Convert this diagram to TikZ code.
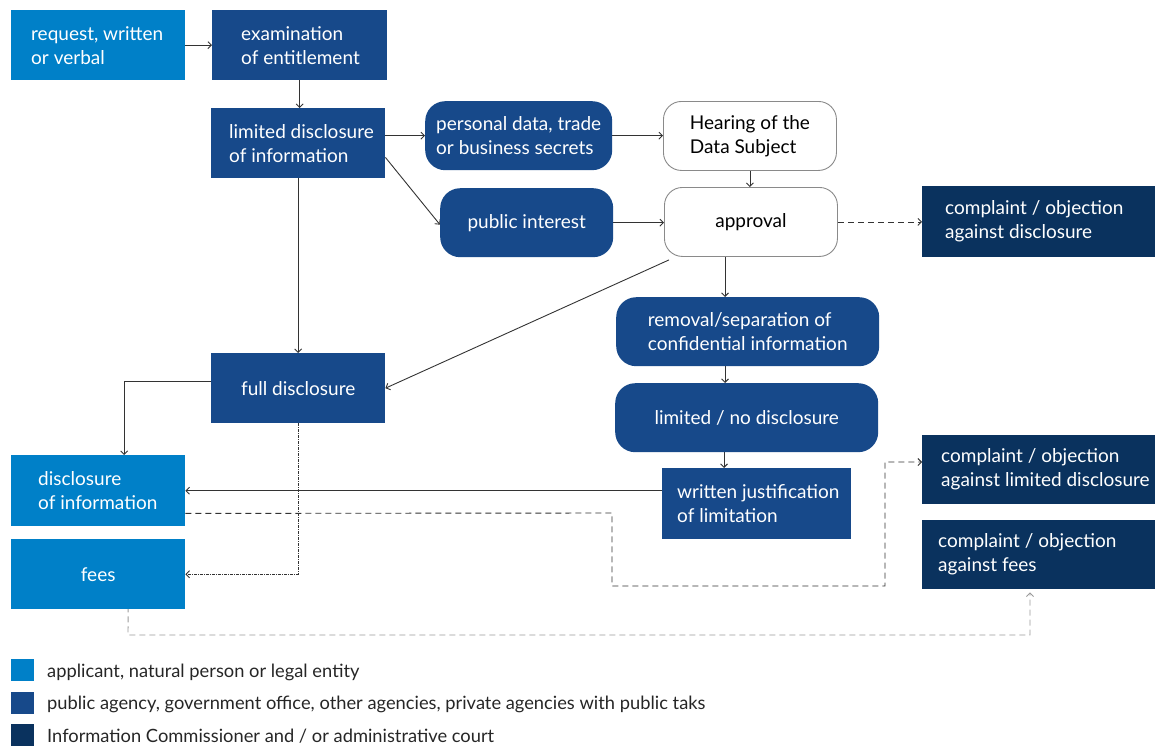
\documentclass[tikz,border=0pt]{standalone}
\usepackage{fontspec}
\setmainfont{Lato}
\usetikzlibrary{arrows.meta,backgrounds,calc}
\definecolor{cLight}{HTML}{0080C8}
\definecolor{cMid}{HTML}{17498A}
\definecolor{cDark}{HTML}{0A325E}
\definecolor{cLine}{HTML}{333333}
\definecolor{cGrayLine}{HTML}{9A9A9A}
\definecolor{cBorder}{HTML}{8A8A8A}
\begin{document}
\begin{tikzpicture}[x=1pt,y=-1pt,
  box/.style={rectangle, anchor=north west, inner sep=0pt, text=white, align=center,
    font=\fontsize{19}{24}\selectfont},
  sqbox/.style={box},
  rbox/.style={box, rounded corners=20pt},
  wbox/.style={box, rounded corners=18pt, fill=white, draw=cBorder, line width=0.9pt, text=black},
  txt/.style={anchor=west, inner sep=0pt, text=white, align=left, font=\fontsize{19}{24}\selectfont},
  legtxt/.style={anchor=west, inner sep=0pt, text=black!85, font=\fontsize{18.3}{20}\selectfont},
  conn/.style={draw=cLine, line width=0.9pt, -{Straight Barb[length=3.5pt,width=7pt]}},
  dconn/.style={conn, dash pattern=on 6pt off 4pt},
  ddconn/.style={conn, dash pattern=on 3pt off 1pt on 1pt off 1pt},
  gconn/.style={conn, draw=cGrayLine, dash pattern=on 6pt off 4pt},
]
\useasboundingbox (0,0) rectangle (1155,747);

% boxes
\node[sqbox, fill=cLight, minimum width=174pt, minimum height=70pt] (req) at (11,10) {};
\node[txt] (reqt) at ($(req.west)+(20,0)$) {request, written\\or verbal};
\node[sqbox, fill=cMid, minimum width=175pt, minimum height=70pt] (exam) at (212,10) {};
\node[txt] (examt) at ($(exam.west)+(29,0)$) {examination\\of entitlement};
\node[sqbox, fill=cMid, minimum width=174pt, minimum height=70pt] (lim) at (211,108) {};
\node[txt] (limt) at ($(lim.west)+(18,0)$) {limited disclosure\\of information};
\node[rbox, fill=cMid, minimum width=187pt, minimum height=69pt, align=left] (pers) at (425,101) {personal data, trade\\or business secrets};
\node[wbox, minimum width=173pt, minimum height=69pt, align=left] (hear) at (663,101) {Hearing of the\\Data Subject};
\node[rbox, fill=cMid, minimum width=173pt, minimum height=69pt] (pub) at (440,188) {public interest};
\node[wbox, minimum width=173pt, minimum height=69pt] (appr) at (664,187) {approval};
\node[sqbox, fill=cDark, minimum width=233pt, minimum height=71pt] (cd) at (922,186) {};
\node[txt] (cdt) at ($(cd.west)+(23,0)$) {complaint / objection\\against disclosure};
\node[rbox, fill=cMid, minimum width=263pt, minimum height=69pt, align=left] (rem) at (616,297) {removal/separation of\\confidential information};
\node[rbox, fill=cMid, minimum width=263pt, minimum height=69pt] (lnd) at (615,383) {limited / no disclosure};
\node[sqbox, fill=cMid, minimum width=189pt, minimum height=71pt] (writ) at (662,468) {};
\node[txt] (writt) at ($(writ.west)+(15,0)$) {written justification\\of limitation};
\node[sqbox, fill=cMid, minimum width=174pt, minimum height=70pt] (full) at (211,353) {full disclosure};
\node[sqbox, fill=cLight, minimum width=174pt, minimum height=71pt] (disc) at (11,455) {};
\node[txt] (disct) at ($(disc.west)+(27,0)$) {disclosure\\of information};
\node[sqbox, fill=cLight, minimum width=174pt, minimum height=70pt] (fees) at (11,539) {fees};
\node[sqbox, fill=cDark, minimum width=233pt, minimum height=69pt] (cl) at (922,435) {};
\node[txt] (clt) at ($(cl.west)+(19,0)$) {complaint / objection\\against limited disclosure};
\node[sqbox, fill=cDark, minimum width=233pt, minimum height=69pt] (cf) at (922,520) {};
\node[txt] (cft) at ($(cf.west)+(16,0)$) {complaint / objection\\against fees};

% legend
\node[sqbox, fill=cLight, minimum width=23pt, minimum height=22pt] (lg1) at (11,659) {};
\node[sqbox, fill=cMid, minimum width=23pt, minimum height=22pt] (lg2) at (11,692) {};
\node[sqbox, fill=cDark, minimum width=23pt, minimum height=22pt] (lg3) at (11,724) {};
\node[legtxt] (lt1) at (47,672) {applicant, natural person or legal entity};
\node[legtxt] (lt2) at (47,704) {public agency, government office, other agencies, private agencies with public taks};
\node[legtxt] (lt3) at (47,736) {Information Commissioner and / or administrative court};

% connector helper coordinates
\coordinate (d1) at (612,513);
\coordinate (d2) at (612,586);
\coordinate (d3) at (885,586);
\coordinate (d4) at (885,462);
\coordinate (g1) at (128,635);
\coordinate (g2) at (1030,635);

\begin{scope}[on background layer]
\draw[conn] (req.east) -- (req.east -| exam.west);
\draw[conn] (exam.south) -- (exam.south |- lim.north);
\draw[conn] (lim.east |- pers.west) -- (pers.west);
\draw[conn] ([yshift=21pt]lim.south east) -- ([yshift=-2pt]pub.west);
\draw[conn] (pers.east) -- (pers.east -| hear.west);
\draw[conn] (hear.south) -- (hear.south |- appr.north);
\draw[conn] (pub.east) -- (pub.east -| appr.west);
\draw[dconn] (appr.east) -- (appr.east -| cd.west);
\draw[conn] ([xshift=61pt]appr.south west) -- ([xshift=61pt]appr.south west |- rem.north);
\draw[conn] ([xshift=5pt,yshift=-3pt]appr.south west) -- (full.east);
\draw[conn] (lim.south) -- (lim.south |- full.north);
\draw[conn] ([xshift=109pt]rem.south west) -- ([xshift=109pt]rem.south west |- lnd.north);
\draw[conn] ([xshift=109pt]lnd.south west) -- ([xshift=109pt]lnd.south west |- writ.north);
\draw[conn] (disc.east -| writ.west) -- (disc.east);
\draw[conn] ([yshift=7pt]full.west) -| ([xshift=26pt]disc.north);
\draw[ddconn] (full.south) |- (fees.east);
\draw[dconn] ([yshift=13pt]disc.south east) -- (d1) -- (d2) -- (d3) -- (d4) -- (d4 -| cl.west);
\draw[gconn] ([xshift=30pt,yshift=3pt]fees.south) -- (g1) -- (g2) -- ([yshift=-3pt]g2 |- cf.south);
\end{scope}
\end{tikzpicture}
\end{document}
